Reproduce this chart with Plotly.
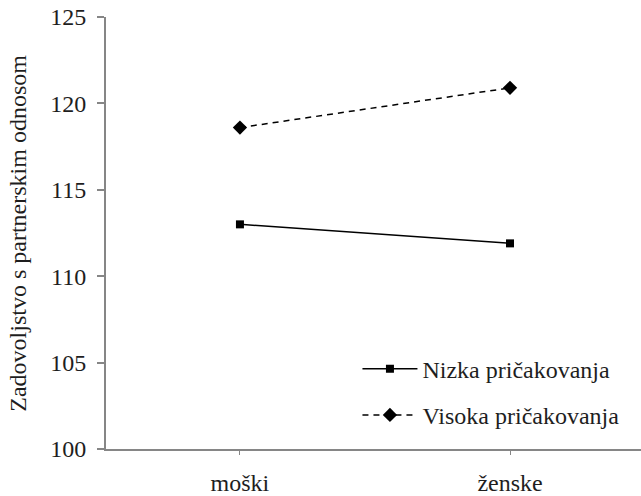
import plotly.graph_objects as go

categories = ["moški", "ženske"]
nizka = [113.0, 111.9]
visoka = [118.6, 120.9]
series_names = ["Nizka pričakovanja", "Visoka pričakovanja"]
y_ticks = [100, 105, 110, 115, 120, 125]
y_title = "Zadovoljstvo s partnerskim odnosom"

FONT = "Times New Roman, Liberation Serif, serif"
AX = "#868686"
TXT = "#1e1e1e"

fig = go.Figure()
fig.add_trace(go.Scatter(
    x=categories, y=nizka, name=series_names[0], mode="lines+markers",
    line=dict(color="black", width=1.5, dash="solid"),
    marker=dict(symbol="square", size=8, color="black"),
    legendgroup="a"))
fig.add_trace(go.Scatter(
    x=categories, y=visoka, name=series_names[1], mode="lines+markers",
    line=dict(color="black", width=1.5, dash="6px,5px"),
    marker=dict(symbol="diamond", size=11, color="black"),
    legendgroup="b"))

fig.update_layout(
    width=641, height=496,
    margin=dict(l=106, r=0, t=17, b=47),
    paper_bgcolor="white", plot_bgcolor="white",
    font=dict(family=FONT, size=24, color=TXT),
    showlegend=True,
    legend=dict(x=0.47, y=0.237, xanchor="left", yanchor="top",
                bgcolor="rgba(0,0,0,0)", font=dict(size=24, family=FONT, color=TXT),
                traceorder="grouped", tracegroupgap=12, itemwidth=55),
    xaxis=dict(type="category", range=[-0.496, 1.485], showgrid=False, zeroline=False,
               showline=True, linecolor=AX, linewidth=2,
               ticks="outside", ticklen=4, tickcolor=AX, tickwidth=1,
               ticklabelstandoff=7,
               tickfont=dict(size=24, family=FONT, color=TXT)),
    yaxis=dict(range=[100, 125], tickvals=y_ticks, showgrid=False, zeroline=False,
               showline=True, linecolor=AX, linewidth=2,
               ticks="outside", ticklen=7, tickcolor=AX, tickwidth=1.5,
               ticklabeloverflow="allow", ticklabelstandoff=6,
               tickfont=dict(size=24, family=FONT, color=TXT)),
    annotations=[dict(text=y_title, xref="paper", yref="paper", x=-0.165, y=0.5,
                      xanchor="center", yanchor="middle", textangle=-90, showarrow=False,
                      font=dict(size=24, family=FONT, color=TXT))],
)

fig.write_html("out.html", config={"displayModeBar": False},
               post_script="document.body.style.margin='0';document.body.style.overflow='hidden';")
